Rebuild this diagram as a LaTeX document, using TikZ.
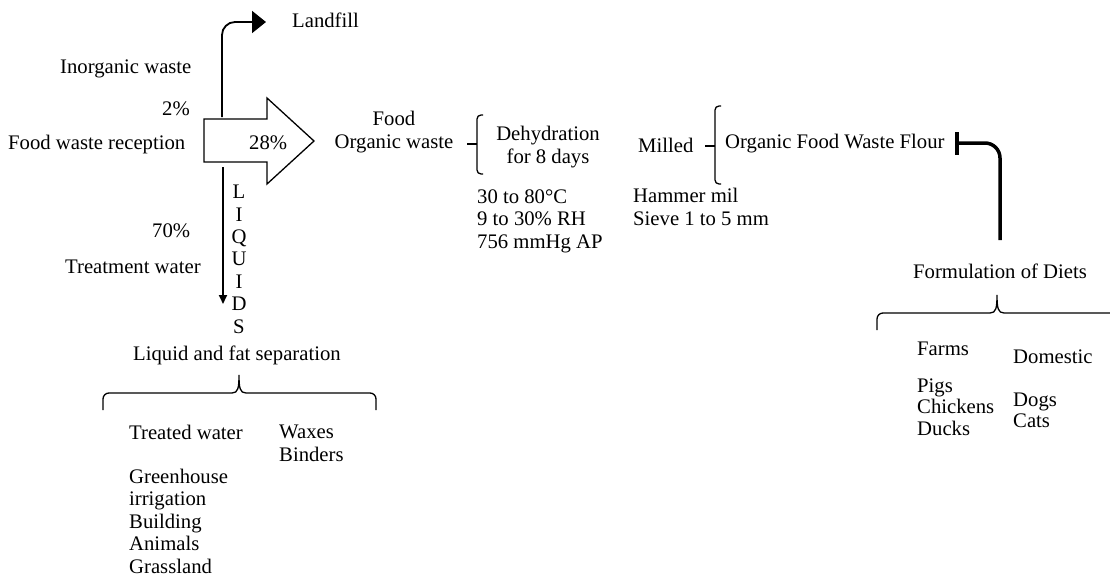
\documentclass[tikz,border=0pt]{standalone}
\usepackage{fontspec}
\setmainfont{Liberation Serif}
\usetikzlibrary{arrows.meta,calc}

\begin{document}
\begin{tikzpicture}[x=1pt,y=-1pt,
  txt/.style={anchor=base west, inner sep=0pt, align=left,
    font=\fontsize{20.7}{22.4}\selectfont},
  flow/.style={line width=1.8pt},
  thinline/.style={line width=1.3pt}]

\useasboundingbox (0,0) rectangle (1110,576);

%bracket and brace macros
\newcommand{\sidebracket}[4]{%
  \draw[thinline, rounded corners=4pt] ($(#1,#2)+(6,0)$) -- (#1,#2) -- (#1,#3) -- ($(#1,#3)+(6,0)$);
  \draw[thinline] ($(#1,#4)+(-10,0)$) -- (#1,#4);
}
\newcommand{\upbrace}[4]{%
  \draw[thinline, rounded corners=6pt] ({#3-7},#4) -- (#1,#4) -- (#1,{#4+17});
  \draw[thinline, rounded corners=6pt] ({#3+7},#4) -- (#2,#4) -- (#2,{#4+17});
  \draw[thinline] ({#3-7},#4) .. controls ({#3-1},#4) and (#3,{#4-5}) .. (#3,{#4-18})
    .. controls (#3,{#4-5}) and ({#3+1},#4) .. ({#3+7},#4);
}

% reception arrow
\draw[thinline] (204,119) -- (267,119) -- (267,98) -- (314,141) -- (267,184) -- (267,162) -- (204,162) -- cycle;
\node[txt] (reception) at (8,149) {Food waste reception};
\node[txt] (pct28) at (249,149) {28\%};

% inorganic branch
\node[txt] (inorganic) at (60,73) {Inorganic waste};
\node[txt] (pct2) at (162,115) {2\%};
\node[txt] (landfill) at (292,27) {Landfill};
\coordinate (inorg) at (222,117);
\coordinate (fill) at (266,22);
\draw[flow, rounded corners=13pt, -{Triangle[length=14pt,width=22pt]}] (inorg) |- (fill);

% liquids branch (base = last line)
\node[txt] (pct70) at (152,237) {70\%};
\node[txt] (treatment) at (65,273) {Treatment water};
\node[txt, anchor=base, align=center] (liquids) at (239,333) {L\\I\\Q\\U\\I\\D\\S};
\coordinate (liqtop) at (223,167);
\coordinate (liqend) at (223,304);
\draw[flow, -{Triangle[length=9pt,width=8pt]}] (liqtop) -- (liqend);
\node[txt] (separation) at (133,360) {Liquid and fat separation};
\upbrace{103}{376}{239}{393}
\node[txt] (treated) at (129,439) {Treated water};
\node[txt] (waxes) at (279,461) {Waxes\\Binders};
\node[txt] (uses) at (129,573) {Greenhouse\\irrigation\\Building\\Animals\\Grassland};

% organic branch
\node[txt, align=center, anchor=base] (organic) at (394,148) {Food\\Organic waste};
\sidebracket{477}{115}{174}{144}
\node[txt, align=center, anchor=base] (dehydration) at (548,163) {Dehydration\\for 8 days};
\node[txt] (conditions) at (477,248) {30 to 80°C\\9 to 30\% RH\\756 mmHg AP};
\node[txt] (milled) at (638,152) {Milled};
\sidebracket{715}{106}{184}{146}
\node[txt] (mill) at (633,225) {Hammer mil\\Sieve 1 to 5 mm};
\node[txt] (flour) at (725,148) {Organic Food Waste Flour};

% diets
\draw[line width=3.5pt] (957,132) -- (957,155);
\draw[line width=3.5pt, rounded corners=15pt] (957,143) -| (1000,240);
\node[txt] (diets) at (913,278) {Formulation of Diets};
\upbrace{877}{1117}{997}{313}
\node[txt] (farms) at (917,355) {Farms};
\node[txt] (domestic) at (1013,363) {Domestic};
\node[txt, font=\fontsize{20.7}{21.5}\selectfont] (birds) at (917,435) {Pigs\\Chickens\\Ducks};
\node[txt, font=\fontsize{20.7}{20.5}\selectfont] (pets) at (1013,427) {Dogs\\Cats};

\end{tikzpicture}
\end{document}
